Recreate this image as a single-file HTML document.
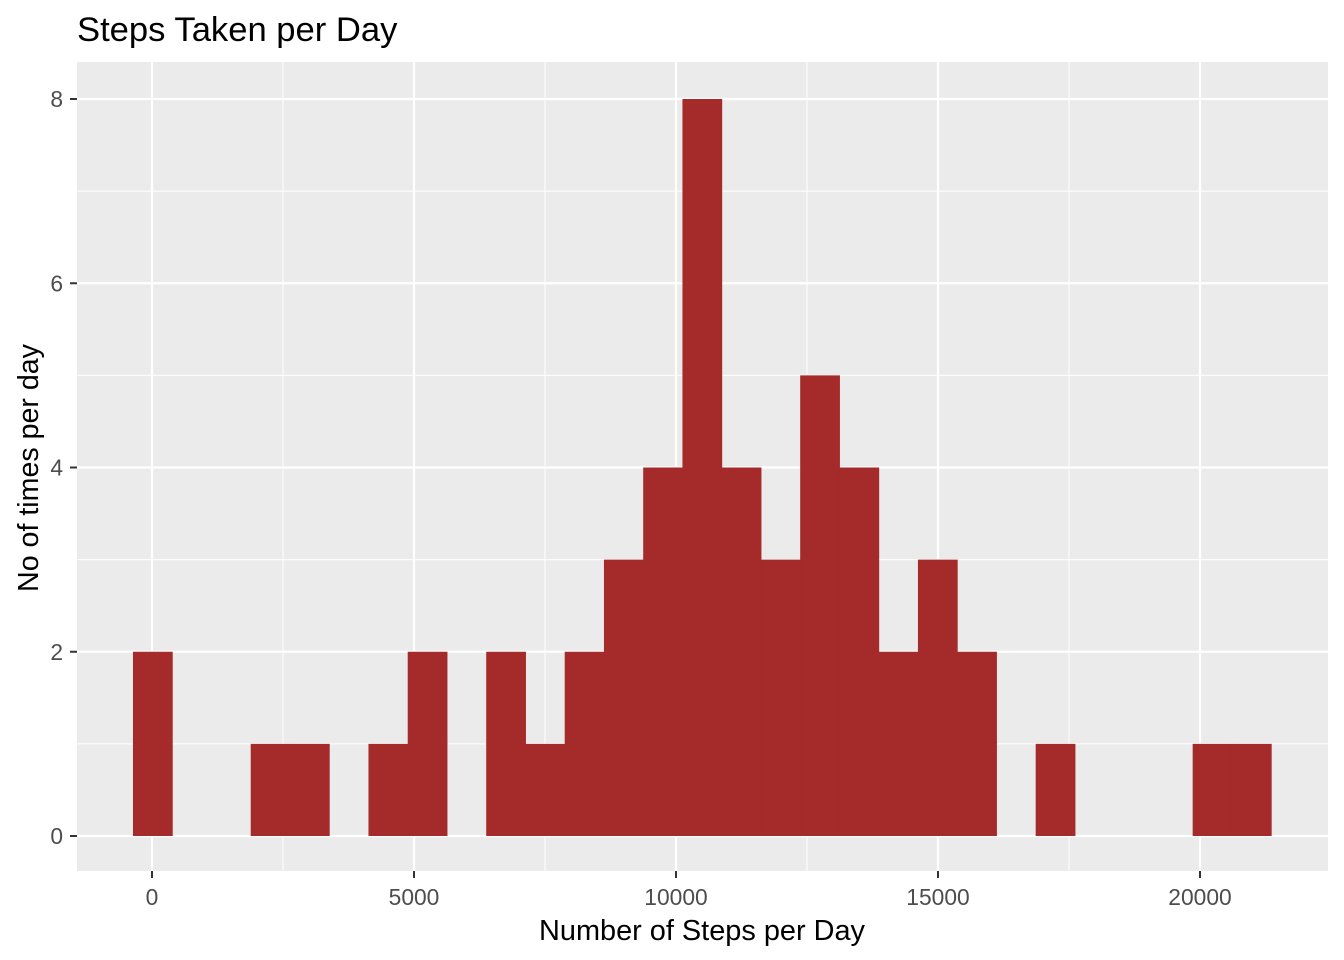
<!DOCTYPE html>
<html><head><meta charset="utf-8"><style>
body{margin:0;background:#fff;}
svg{display:block;font-family:"Liberation Sans",Arial,sans-serif;}
</style></head><body>
<svg id="chart" width="1344" height="960">
<text x="77" y="41" font-size="34.6" fill="#000">Steps Taken per Day</text>
<rect x="77" y="62" width="1251" height="809" fill="#ebebeb"/>
<g id="grid"></g>
<g id="bars"></g>
<g id="axes"></g>
<text x="702" y="940" font-size="28.9" text-anchor="middle" fill="#000">Number of Steps per Day</text>
<text transform="translate(38,468) rotate(-90)" font-size="28.6" text-anchor="middle" fill="#000">No of times per day</text>
</svg>
<script>
const binStart = -363;
const binWidth = 749;
const counts = [2,0,0,1,1,0,1,2,0,2,1,2,3,4,8,4,3,5,4,2,3,2,0,1,0,0,0,1,1];
const xTicks = [0,5000,10000,15000,20000];
const xTickLabels = ["0","5000","10000","15000","20000"];
const yTicks = [0,2,4,6,8];
const yTickLabels = ["0","2","4","6","8"];
const NS="http://www.w3.org/2000/svg";
const xs = v => 152 + (v/5000)*262;
const ys = v => 836 - v*92.125;
function mk(tag, attrs, parent){const e=document.createElementNS(NS,tag);for(const k in attrs)e.setAttribute(k,attrs[k]);document.getElementById(parent).appendChild(e);return e;}
for(let i=0;i<xTicks.length-1;i++){const v=(xTicks[i]+xTicks[i+1])/2;
 const l=mk('line',{x1:xs(v),x2:xs(v),y1:62,y2:871,stroke:'#fff','stroke-width':1},'grid');
 
 }
for(let i=0;i<yTicks.length-1;i++){const v=(yTicks[i]+yTicks[i+1])/2;
 const l=mk('line',{x1:77,x2:1328,y1:ys(v),y2:ys(v),stroke:'#fff','stroke-width':1},'grid');
 
 }
xTicks.forEach((v,i)=>{
 const l=mk('line',{x1:xs(v),x2:xs(v),y1:62,y2:871,stroke:'#fff','stroke-width':2.2},'grid');
 
 
 const t=mk('line',{x1:xs(v),x2:xs(v),y1:871,y2:878,stroke:'#333','stroke-width':2},'axes');
 
 
 const tx=mk('text',{x:xs(v),y:905,'font-size':22.8,'text-anchor':'middle',fill:'#4d4d4d'},'axes');
 tx.textContent=xTickLabels[i];
 
 
});
yTicks.forEach((v,i)=>{
 const l=mk('line',{x1:77,x2:1328,y1:ys(v),y2:ys(v),stroke:'#fff','stroke-width':2.2},'grid');
 
 
 const t=mk('line',{x1:70,x2:77,y1:ys(v),y2:ys(v),stroke:'#333','stroke-width':2},'axes');
 
 
 const tx=mk('text',{x:63,y:ys(v)+8,'font-size':22.8,'text-anchor':'end',fill:'#4d4d4d'},'axes');
 tx.textContent=yTickLabels[i];
 
 
});
counts.forEach((c,i)=>{ if(c<=0) return;
 const x0=xs(binStart+i*binWidth), x1=xs(binStart+(i+1)*binWidth);
 const r=mk('rect',{x:x0,y:ys(c),width:x1-x0+0.5,height:ys(0)-ys(c),fill:'#a52a2a'},'bars');
 
 
});
</script>
</body></html>
